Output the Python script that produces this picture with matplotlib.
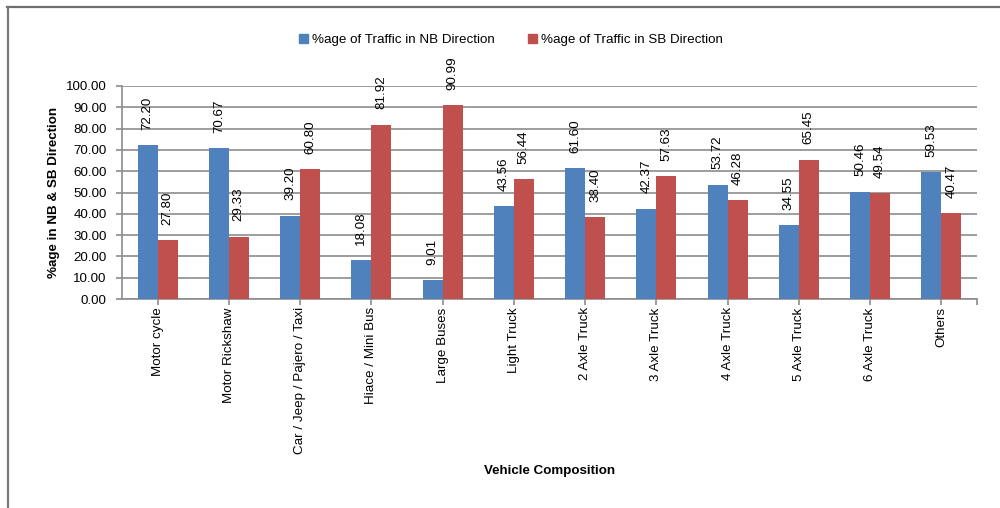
import matplotlib
matplotlib.use("Agg")
import matplotlib.pyplot as plt
from matplotlib.patches import Rectangle
from matplotlib.lines import Line2D

categories = ["Motor cycle", "Motor Rickshaw", "Car / Jeep / Pajero / Taxi",
              "Hiace / Mini Bus", "Large Buses", "Light Truck", "2 Axle Truck",
              "3 Axle Truck", "4 Axle Truck", "5 Axle Truck", "6 Axle Truck", "Others"]
nb_values = [72.20, 70.67, 39.20, 18.08, 9.01, 43.56, 61.60, 42.37, 53.72, 34.55, 50.46, 59.53]
sb_values = [27.80, 29.33, 60.80, 81.92, 90.99, 56.44, 38.40, 57.63, 46.28, 65.45, 49.54, 40.47]
series_names = ["%age of Traffic in NB Direction", "%age of Traffic in SB Direction"]
y_ticks = [0, 10, 20, 30, 40, 50, 60, 70, 80, 90, 100]

plt.rcParams["font.family"] = ["Liberation Sans", "DejaVu Sans"]
FS = 9.6
BLUE = "#4F81BD"
RED = "#C0504D"
GRID = "#8C8C8C"

fig = plt.figure(figsize=(10, 5.08), dpi=100)
ax = fig.add_axes([0.122, 1 - 299 / 508, 0.855, (299 - 86) / 508])

x = list(range(len(categories)))
w = 0.28
bars_nb = ax.bar([i - w / 2 for i in x], nb_values, width=w, color=BLUE, zorder=3)
bars_sb = ax.bar([i + w / 2 for i in x], sb_values, width=w, color=RED, zorder=3)

for bars, vals in ((bars_nb, nb_values), (bars_sb, sb_values)):
    for b, v in zip(bars, vals):
        ax.annotate(f"{v:.2f}", (b.get_x() + b.get_width() / 2, v),
                    xytext=(0, 11), textcoords="offset points",
                    rotation=90, ha="center", va="bottom", fontsize=FS, zorder=4)

ax.set_xlim(-0.5, len(categories) - 0.5)
ax.set_ylim(0, 100)
ax.set_yticks(y_ticks)
ax.set_yticklabels([f"{t:.2f}" for t in y_ticks], fontsize=FS)
ax.set_xticks(x)
ax.set_xticklabels(categories, rotation=90, fontsize=FS, va="top")
ax.set_xticks([len(categories) - 0.5], minor=True)

ax.grid(axis="y", color=GRID, linewidth=1.2, zorder=0)
for s in ("top", "right"):
    ax.spines[s].set_visible(False)
for s in ("left", "bottom"):
    ax.spines[s].set_color(GRID)
    ax.spines[s].set_linewidth(1.2)
ax.tick_params(axis="both", which="both", color=GRID, length=4, width=1.2, pad=2)
ax.tick_params(axis="y", pad=7)

ax.set_ylabel("%age in NB & SB Direction", fontsize=FS, fontweight="bold")
ax.yaxis.set_label_coords(-0.0725, 0.5)
fig.text(0.5495, 1 - 471 / 508, "Vehicle Composition", ha="center", va="center",
         fontsize=FS, fontweight="bold")

handles = [Rectangle((0, 0), 1, 1, color=BLUE), Rectangle((0, 0), 1, 1, color=RED)]
fig.legend(handles, series_names, loc="center", bbox_to_anchor=(0.511, 1 - 40 / 508),
           ncol=2, frameon=False, fontsize=FS, handlelength=0.7, handleheight=0.7,
           handletextpad=0.3, columnspacing=2.5)

# outer frame
fig.add_artist(Line2D([0.007, 1.0], [1 - 6.5 / 508] * 2, color="#6E6E6E", linewidth=1.6,
                      transform=fig.transFigure))
fig.add_artist(Line2D([0.0075] * 2, [0, 1 - 6.5 / 508], color="#7A7A7A", linewidth=1.6,
                      transform=fig.transFigure))

fig.savefig("out.png", dpi=100, facecolor="white")
